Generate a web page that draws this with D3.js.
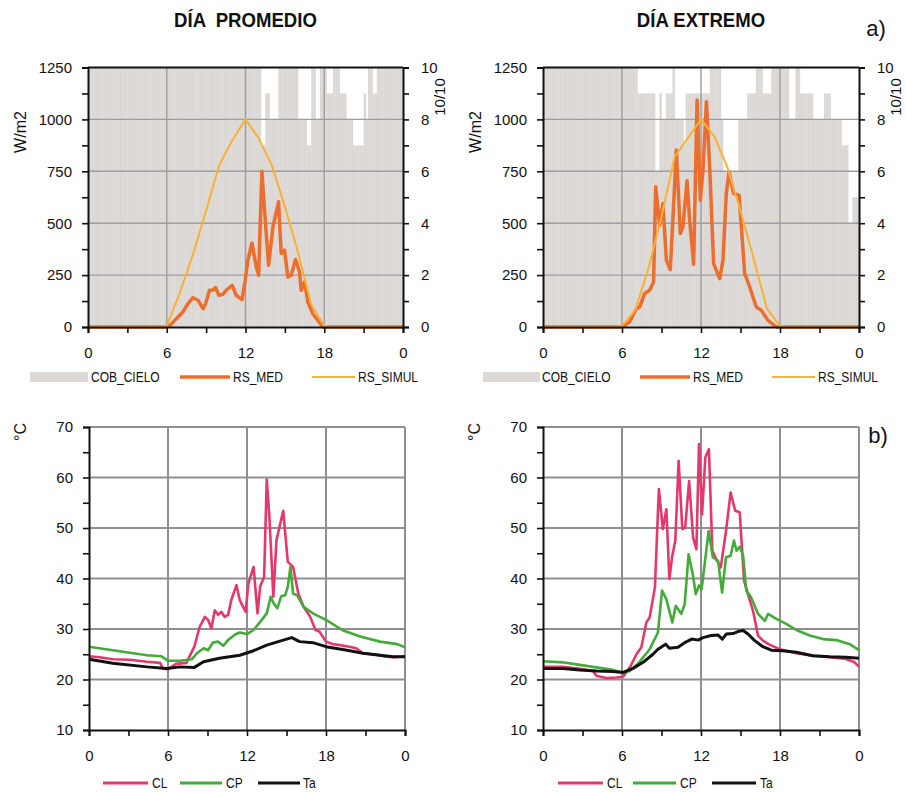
<!DOCTYPE html>
<html>
<head>
<meta charset="utf-8">
<script src="https://cdn.jsdelivr.net/npm/d3@7"></script>
<style>
body { margin: 0; background: #fff; }
text { font-family: "Liberation Sans", Arial, sans-serif; fill: #111; }
</style>
</head>
<body>
<svg id="chart" width="906" height="792"></svg>
<script>
// ---- data ----
var hourTicks = [0, 3, 6, 9, 12, 15, 18, 21, 24];
var hourLabels = ["0", "", "6", "", "12", "", "18", "", "0"];
var wTicks = [0, 125, 250, 375, 500, 625, 750, 875, 1000, 1125, 1250];
var cobTicks = [0, 1, 2, 3, 4, 5, 6, 7, 8, 9, 10];
var tempTicks = [10, 15, 20, 25, 30, 35, 40, 45, 50, 55, 60, 65, 70];

var topTitles = ["DÍA  PROMEDIO", "DÍA EXTREMO"];
var topLegend = ["COB_CIELO", "RS_MED", "RS_SIMUL"];
var bottomLegend = ["CL", "CP", "Ta"];

// cloud cover in tenths, one value every 10 minutes
var cloudPromedio = [
  10,10,10,10,10,10,10,10,10,10,10,10,
  10,10,10,10,10,10,10,10,10,10,10,10,
  10,10,10,10,10,10,10,10,10,10,10,10,
  10,10,10,10,10,10,10,10,10,10,10,10,
  10,10,10,10,10,10,10,10,10,10,10,10,
  10,10,10,10,10,10,10,10,10,10,10,10,
  10,10,10,10,10,10,10,7,7,9,9,8,
  8,8,8,10,10,10,10,10,10,10,10,10,
  8,8,8,8,7,7,10,10,8,8,10,10,
  10,9,9,9,10,10,10,9,9,9,8,8,
  8,7,7,7,7,7,9,8,10,10,9,9,
  10,10,10,10,10,10,10,10,10,10,10,10
];
var cloudExtremo = [
  10,10,10,10,10,10,10,10,10,10,10,10,
  10,10,10,10,10,10,10,10,10,10,10,10,
  10,10,10,10,10,10,10,10,10,10,10,10,
  10,10,10,10,10,10,10,9,9,9,9,9,
  9,9,9,6,6,9,8,8,9,9,9,10,
  8,8,8,8,7,9,9,9,9,9,9,9,
  9,9,9,9,10,10,10,10,10,8,6,6,
  6,6,6,6,6,8,8,8,8,9,9,9,
  9,10,10,10,9,9,9,9,10,10,10,10,
  10,10,10,10,8,8,8,10,10,9,9,9,
  9,9,9,8,8,8,8,8,9,9,9,8,
  8,8,8,8,7,7,7,4,4,5,5,5
];

// [hour, W/m2]
var rsMedPromedio = [[0,0],[5.8,0],[6.3,10],[6.73,40],[7.23,72],[7.61,112],[8.0,141],[8.38,129],[8.76,88],[8.96,112],
  [9.26,177],[9.52,177],[9.72,190],[9.97,153],[10.28,157],[10.53,177],[10.99,201],[11.29,153],[11.73,132],[11.98,225],
  [12.18,321],[12.49,405],[12.82,289],[13.0,249],[13.25,750],[13.45,562],[13.76,297],[14.09,482],[14.52,603],[14.72,354],
  [14.97,370],[15.23,241],[15.48,249],[15.81,325],[16.12,265],[16.24,177],[16.5,217],[16.75,120],[17.13,64],[17.51,32],
  [17.9,0],[24,0]];
var rsSimulPromedio = [[0,0],[5.5,0],[6,5],[7,165],[8,350],[9,560],[10,780],[11,900],[12,1000],[13,910],[14,780],
  [15,580],[16,360],[17,110],[18,5],[18.5,0],[24,0]];
var rsMedExtremo = [[0,0],[5.8,0],[6.2,8],[6.58,24],[7.09,88],[7.34,96],[7.72,161],[8.1,177],[8.4,217],[8.56,675],
  [8.86,490],[9.11,595],[9.37,321],[9.67,276],[10.13,852],[10.43,450],[10.63,482],[10.94,704],[11.14,514],[11.44,302],
  [11.7,1093],[11.95,611],[12.15,755],[12.41,1085],[12.66,771],[12.96,305],[13.42,233],[13.67,321],[13.92,643],[14.13,747],
  [14.48,643],[14.89,635],[15.32,257],[15.7,193],[16.2,96],[16.58,80],[17.09,32],[17.72,0],[24,0]];
var rsSimulExtremo = [[0,0],[5.5,0],[6,5],[7,80],[8,280],[9,530],[10,820],[11,910],[12,1000],[13,920],[14,770],
  [15,560],[16,330],[17,90],[18,5],[18.5,0],[24,0]];

// [hour, °C]
var clPromedio = [[0,24.6],[0.8,24.4],[1.8,24.0],[3.1,23.9],[4.4,23.5],[5.4,23.3],[5.6,22.2],[6.0,22.0],[6.6,23.1],
  [7.4,23.3],[8.0,26.5],[8.4,30.4],[8.8,32.4],[9.05,31.8],[9.3,30.1],[9.55,33.7],[9.8,32.8],[10.06,33.4],[10.3,32.4],
  [10.57,32.8],[10.8,35.7],[11.2,38.7],[11.45,35.7],[11.9,33.4],[12.1,39.0],[12.5,42.3],[12.8,33.1],[13.0,38.4],
  [13.3,40.3],[13.5,59.6],[13.7,52.2],[14.0,36.4],[14.24,47.6],[14.75,53.4],[15.1,43.3],[15.5,42.3],[15.9,37.0],
  [16.3,34.4],[16.8,32.4],[17.2,29.8],[17.5,29.5],[18.0,27.5],[18.55,27.0],[19.6,26.6],[20.3,26.2],[20.8,25.2],
  [21.6,25.0],[22.6,24.5],[23.2,24.4],[24,24.6]];
var cpPromedio = [[0,26.5],[1.8,25.8],[3.1,25.3],[4.4,24.8],[5.5,24.6],[6.0,23.7],[6.9,23.7],[7.8,24.0],[8.2,25.2],
  [8.7,26.2],[9.05,25.8],[9.4,27.3],[9.8,27.5],[10.2,26.7],[10.6,27.9],[11.1,28.9],[11.45,29.3],[12.0,29.0],[12.5,29.8],
  [13.0,31.4],[13.5,33.1],[13.8,36.4],[14.0,35.2],[14.3,34.1],[14.6,36.5],[14.9,36.7],[15.1,38.4],[15.3,42.3],[15.5,37.0],
  [15.8,36.7],[16.3,34.4],[17.0,33.1],[18.0,31.8],[19.3,29.7],[20.6,28.5],[22.1,27.5],[23.4,27.0],[24,26.4]];
var taPromedio = [[0,24.0],[1.8,23.2],[4.4,22.5],[5.9,22.2],[6.9,22.5],[8.0,22.4],[8.7,23.5],[9.9,24.2],[11.45,24.8],
  [12.5,25.7],[13.5,26.8],[14.5,27.6],[15.4,28.3],[16.0,27.5],[17.0,27.3],[18.0,26.5],[19.6,25.8],[20.8,25.2],
  [22.1,24.8],[23.1,24.5],[24,24.5]];

var clExtremo = [[0,22.5],[1.5,22.5],[2.8,22.1],[3.8,21.7],[4.05,20.75],[4.8,20.3],[5.57,20.4],[6.08,20.55],[6.6,22.4],
  [7.1,25.0],[7.47,26.4],[7.85,31.3],[8.1,32.3],[8.5,38.2],[8.8,57.7],[9.1,49.8],[9.37,53.7],[9.6,39.9],[9.8,44.2],
  [10.05,47.5],[10.3,63.3],[10.58,49.8],[10.8,50.1],[11.1,59.3],[11.4,48.1],[11.65,45.8],[11.85,66.6],[12.08,52.7],
  [12.33,64.0],[12.6,65.6],[12.86,45.5],[13.16,43.8],[13.5,42.2],[13.9,49.4],[14.25,57.0],[14.6,53.4],[14.94,53.1],
  [15.27,39.6],[15.57,36.9],[15.95,33.6],[16.33,28.7],[16.7,27.7],[17.2,26.9],[17.97,26.0],[19.24,25.2],[20.5,24.7],
  [21.8,24.4],[23.0,24.05],[23.67,23.4],[24,22.5]];
var cpExtremo = [[0,23.6],[1.5,23.4],[2.8,22.9],[4.05,22.4],[5.3,21.9],[6.08,21.4],[6.6,21.7],[7.3,23.4],[8.1,26.0],
  [8.73,29.3],[9.04,37.6],[9.37,35.9],[9.82,31.3],[10.08,34.6],[10.5,33.0],[10.76,34.9],[11.06,44.8],[11.4,40.5],
  [11.6,36.9],[11.85,38.6],[12.05,37.9],[12.58,49.4],[12.9,44.2],[13.3,43.5],[13.6,37.2],[13.9,44.2],[14.25,44.5],
  [14.5,47.5],[14.7,45.5],[14.94,46.3],[15.2,44.5],[15.44,37.6],[15.8,36.3],[16.33,33.0],[16.84,31.6],[17.1,33.0],
  [17.72,32.0],[18.48,31.0],[19.24,29.8],[20.25,28.7],[21.27,28.0],[22.28,27.8],[23.3,27.0],[24,25.8]];
var taExtremo = [[0,22.2],[1.5,22.2],[2.8,21.9],[4.05,21.7],[5.3,21.6],[6.08,21.4],[6.84,22.2],[7.6,23.4],[8.35,25.0],
  [8.73,26.0],[9.32,27.0],[9.6,26.2],[10.25,26.4],[10.76,27.3],[11.3,28.0],[11.77,27.8],[12.15,28.3],[12.78,28.7],
  [13.3,28.8],[13.62,28.0],[13.92,29.0],[14.43,29.1],[14.8,29.5],[15.2,29.7],[15.57,29.0],[16.08,27.7],[16.7,26.5],
  [17.34,25.8],[18.2,25.7],[19.24,25.4],[20.5,24.7],[21.8,24.5],[23.0,24.4],[24,24.2]];

// ---- style ----
var medColor = "#ec6e2e";
var simulColor = "#f8b133";
var clColor = "#e4386a";
var cpColor = "#44aa3a";
var taColor = "#111111";
var gridColor = "#9d9d9d";
var narrow = 0.8;  // horizontal squeeze for the condensed legend font

var svg = d3.select("#chart");

// faint dotted fill of the cloud bars
var pat = svg.append("defs").append("pattern")
    .attr("id", "cob").attr("patternUnits", "userSpaceOnUse")
    .attr("width", 2).attr("height", 2);
pat.append("rect").attr("width", 2).attr("height", 2).attr("fill", "#dfdbd8");
pat.append("rect").attr("width", 1).attr("height", 2).attr("fill", "#dad6d3");
var cobFill = "url(#cob)";

function styleAxis(ax) {
    ax.select(".domain").attr("stroke", "#111").attr("stroke-width", 2);
    ax.selectAll(".tick line").attr("stroke", "#111").attr("stroke-width", 1.6);
    ax.selectAll(".tick text").attr("font-size", 15).attr("fill", "#111");
}

function hourAxis(g, x, yPos) {
    var ax = g.append("g")
        .attr("transform", "translate(0," + yPos + ")")
        .call(d3.axisBottom(x).tickValues(hourTicks).tickSizeOuter(0).tickSize(6).tickPadding(14)
            .tickFormat(function(d, i){ return hourLabels[i]; }));
    styleAxis(ax);
}

function legendText(x, y, s) {
    svg.append("text").attr("transform", "translate(" + x + "," + y + ") scale(" + narrow + ",1)")
        .attr("font-size", 15).text(s);
}

function topPanel(left, right, cloud, rsMed, rsSimul, title, legendX) {
    var top = 67.5, bottom = 327;
    var x = d3.scaleLinear().domain([0, 24]).range([left, right]);
    var y = d3.scaleLinear().domain([0, 1250]).range([bottom, top]);
    var y2 = d3.scaleLinear().domain([0, 10]).range([bottom, top]);
    var g = svg.append("g");

    // cloud cover bars (10 min each)
    g.selectAll("rect.cob")
        .data(cloud)
        .enter()
        .append("rect")
        .attr("class", "cob")
        .attr("x", function(d, i){ return x(i / 6); })
        .attr("width", function(d, i){ return x((i + 1) / 6) - x(i / 6) + 0.4; })
        .attr("y", function(d){ return y2(d); })
        .attr("height", function(d){ return y2(0) - y2(d); })
        .attr("fill", cobFill);

    // gridlines
    g.selectAll("line.hgrid")
        .data([250, 500, 750, 1000])
        .enter().append("line")
        .attr("x1", left).attr("x2", right)
        .attr("y1", function(d){ return y(d); }).attr("y2", function(d){ return y(d); })
        .attr("stroke", gridColor).attr("stroke-width", 1.4);
    g.selectAll("line.vgrid")
        .data([6, 12, 18])
        .enter().append("line")
        .attr("y1", top).attr("y2", bottom)
        .attr("x1", function(d){ return x(d); }).attr("x2", function(d){ return x(d); })
        .attr("stroke", gridColor).attr("stroke-width", 1.4);

    var line = d3.line().x(function(d){ return x(d[0]); }).y(function(d){ return y(d[1]); });
    g.append("path").datum(rsMed).attr("d", line)
        .attr("fill", "none").attr("stroke", medColor).attr("stroke-width", 3.5).attr("stroke-linejoin", "round");
    g.append("path").datum(rsSimul).attr("d", line)
        .attr("fill", "none").attr("stroke", simulColor).attr("stroke-width", 2).attr("stroke-linejoin", "round");

    // frame top
    g.append("line").attr("x1", left).attr("x2", right).attr("y1", top).attr("y2", top)
        .attr("stroke", "#111").attr("stroke-width", 2);

    var ax = g.append("g").attr("transform", "translate(" + left + ",0)")
        .call(d3.axisLeft(y).tickValues(wTicks).tickSizeOuter(0).tickSize(6).tickPadding(10)
            .tickFormat(function(d){ return d % 250 === 0 ? d : ""; }));
    styleAxis(ax);
    ax = g.append("g").attr("transform", "translate(" + right + ",0)")
        .call(d3.axisRight(y2).tickValues(cobTicks).tickSizeOuter(0).tickSize(6).tickPadding(12)
            .tickFormat(function(d){ return d % 2 === 0 ? d : ""; }));
    styleAxis(ax);
    hourAxis(g, x, bottom);

    // titles
    svg.append("text").attr("transform", "translate(" + ((left + right) / 2) + ",27) scale(0.93,1)")
        .attr("text-anchor", "middle").attr("font-size", 20).attr("font-weight", "bold")
        .attr("xml:space", "preserve").text(title);
    svg.append("text").attr("transform", "translate(" + (left - 62) + ",132) rotate(-90)")
        .attr("text-anchor", "middle").attr("font-size", 16).text("W/m2");
    svg.append("text").attr("transform", "translate(" + (right + 42) + ",97) rotate(-90)")
        .attr("text-anchor", "middle").attr("font-size", 15).text("10/10");

    // legend
    var ly = 377;
    svg.append("rect").attr("x", legendX[0]).attr("y", ly - 5).attr("width", legendX[1] - legendX[0])
        .attr("height", 10).attr("fill", cobFill);
    svg.append("line").attr("x1", legendX[3]).attr("x2", legendX[4]).attr("y1", ly).attr("y2", ly)
        .attr("stroke", medColor).attr("stroke-width", 3.5);
    svg.append("line").attr("x1", legendX[6]).attr("x2", legendX[7]).attr("y1", ly).attr("y2", ly)
        .attr("stroke", simulColor).attr("stroke-width", 2);
    [2, 5, 8].forEach(function(k, i){
        legendText(legendX[k], ly + 5, topLegend[i]);
    });
}

function bottomPanel(left, right, cl, cp, ta, legendX) {
    var top = 427, bottom = 730;
    var x = d3.scaleLinear().domain([0, 24]).range([left, right]);
    var y = d3.scaleLinear().domain([10, 70]).range([bottom, top]);
    var g = svg.append("g");

    g.selectAll("line.hgrid")
        .data([20, 30, 40, 50, 60, 70])
        .enter().append("line")
        .attr("x1", left).attr("x2", right)
        .attr("y1", function(d){ return y(d); }).attr("y2", function(d){ return y(d); })
        .attr("stroke", "#8f8f8f").attr("stroke-width", 2);
    g.selectAll("line.vgrid")
        .data([6, 12, 18, 24])
        .enter().append("line")
        .attr("y1", top).attr("y2", bottom)
        .attr("x1", function(d){ return x(d); }).attr("x2", function(d){ return x(d); })
        .attr("stroke", "#8f8f8f").attr("stroke-width", 2);

    var line = d3.line().x(function(d){ return x(d[0]); }).y(function(d){ return y(d[1]); });
    g.append("path").datum(cl).attr("d", line)
        .attr("fill", "none").attr("stroke", clColor).attr("stroke-width", 2.6).attr("stroke-linejoin", "round");
    g.append("path").datum(cp).attr("d", line)
        .attr("fill", "none").attr("stroke", cpColor).attr("stroke-width", 2.6).attr("stroke-linejoin", "round");
    g.append("path").datum(ta).attr("d", line)
        .attr("fill", "none").attr("stroke", taColor).attr("stroke-width", 3).attr("stroke-linejoin", "round");

    var ax = g.append("g").attr("transform", "translate(" + left + ",0)")
        .call(d3.axisLeft(y).tickValues(tempTicks).tickSizeOuter(0).tickSize(6).tickPadding(10)
            .tickFormat(function(d){ return d % 10 === 0 ? d : ""; }));
    styleAxis(ax);
    hourAxis(g, x, bottom);

    svg.append("text").attr("transform", "translate(" + (left - 63) + ",432) rotate(-90)")
        .attr("text-anchor", "middle").attr("font-size", 16).text("°C");

    var ly = 783;
    var cols = [clColor, cpColor, taColor];
    [0, 3, 6].forEach(function(k, i){
        svg.append("line").attr("x1", legendX[k]).attr("x2", legendX[k + 1]).attr("y1", ly).attr("y2", ly)
            .attr("stroke", cols[i]).attr("stroke-width", i === 2 ? 3.2 : 2.8);
        legendText(legendX[k + 2], ly + 5, bottomLegend[i]);
    });
}

topPanel(88, 403, cloudPromedio, rsMedPromedio, rsSimulPromedio, topTitles[0],
    [30, 88, 91, 180, 230, 233, 312, 355, 358]);
topPanel(543, 859, cloudExtremo, rsMedExtremo, rsSimulExtremo, topTitles[1],
    [483, 540, 542, 640, 690, 693, 772, 815, 818]);
bottomPanel(89, 405, clPromedio, cpPromedio, taPromedio, [103, 148, 152, 180, 222, 226, 258, 300, 303]);
bottomPanel(543, 859, clExtremo, cpExtremo, taExtremo, [558, 603, 607, 633, 676, 680, 712, 756, 760]);

svg.append("text").attr("x", 876).attr("y", 36).attr("text-anchor", "middle").attr("font-size", 22).text("a)");
svg.append("text").attr("x", 878).attr("y", 443).attr("text-anchor", "middle").attr("font-size", 22).text("b)");
</script>
</body>
</html>
